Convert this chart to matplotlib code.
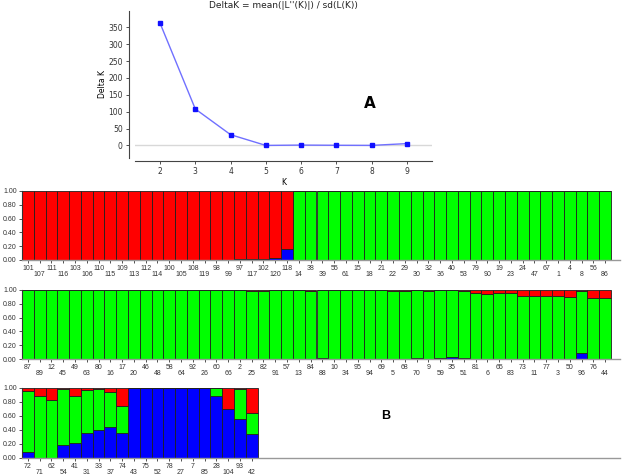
import matplotlib
matplotlib.use("Agg")
import matplotlib.pyplot as plt
import numpy as np

W, H = 625, 476

# ---------------- Data ----------------
k_values = [2, 3, 4, 5, 6, 7, 8, 9]
delta_k = [362, 108, 32, 0.2, 1.2, 0.6, 0.3, 5.6]

row1_labels = ["101", "107", "111", "116", "103", "106", "110", "115", "109", "113",
               "112", "114", "100", "105", "108", "119", "98", "99", "97", "117",
               "102", "120", "118", "14", "38", "39", "55", "61", "15", "18",
               "21", "22", "29", "30", "32", "36", "40", "53", "79", "90",
               "19", "23", "24", "47", "67", "1", "4", "8", "56", "86"]
row1_blue = [0]*20 + [0.0, 0.03, 0.16] + [0]*27
row1_green = [0]*18 + [0.01, 0.01, 0.02, 0.0, 0.0] + [1.0]*27
row1_red = [1.0]*18 + [0.99, 0.99, 0.98, 0.97, 0.84] + [0]*27

row2_labels = ["87", "89", "12", "45", "49", "63", "80", "16", "17", "20",
               "46", "48", "58", "64", "92", "26", "60", "66", "2", "25",
               "82", "91", "57", "13", "84", "88", "10", "34", "95", "94",
               "69", "5", "68", "70", "9", "59", "35", "51", "81", "6",
               "65", "83", "73", "11", "77", "3", "50", "96", "76", "44"]
row2_blue = [0]*22 + [0.005, 0.005, 0.005, 0.01, 0, 0, 0, 0,
                      0, 0, 0, 0.02, 0, 0.02, 0.03, 0.01, 0, 0,
                      0, 0, 0, 0, 0, 0, 0, 0.08, 0, 0]
row2_red = [0, 0.005, 0, 0, 0, 0, 0, 0, 0, 0.005,
            0, 0, 0, 0, 0, 0, 0, 0, 0, 0.01,
            0.01, 0.005, 0, 0, 0.02, 0, 0, 0, 0, 0,
            0, 0.01, 0.01, 0, 0.01, 0, 0, 0.02, 0.05, 0.06,
            0.05, 0.05, 0.08, 0.08, 0.08, 0.09, 0.10, 0.01, 0.12, 0.12]
row2_green = [round(1 - b - r, 3) for b, r in zip(row2_blue, row2_red)]

row3_labels = ["72", "71", "62", "54", "41", "31", "33", "37", "74", "43",
               "75", "52", "78", "27", "7", "85", "28", "104", "93", "42"]
row3_blue = [0.08, 0.0, 0.0, 0.19, 0.21, 0.36, 0.40, 0.44, 0.36, 1.0,
             1.0, 1.0, 1.0, 1.0, 1.0, 1.0, 0.88, 0.70, 0.56, 0.35]
row3_green = [0.88, 0.88, 0.83, 0.79, 0.67, 0.61, 0.59, 0.51, 0.39, 0.0,
              0.0, 0.0, 0.0, 0.0, 0.0, 0.0, 0.12, 0.0, 0.43, 0.30]
row3_red = [0.04, 0.12, 0.17, 0.02, 0.12, 0.03, 0.01, 0.05, 0.25, 0.0,
            0.0, 0.0, 0.0, 0.0, 0.0, 0.0, 0.0, 0.30, 0.01, 0.35]

yticks_bar = [0.0, 0.2, 0.4, 0.6, 0.8, 1.0]

# ---------------- Figure ----------------
fig = plt.figure(figsize=(W/100, H/100), dpi=100)
fig.patch.set_facecolor("white")

def px_axes(x0, y0, x1, y1):
    return fig.add_axes([x0/W, 1 - y1/H, (x1-x0)/W, (y1-y0)/H])

# ---- Delta K plot ----
axk = px_axes(135, 11, 432, 158)
axk.axhline(0, color="#d8d8d8", lw=1.0, zorder=1)
axk.plot(k_values, delta_k, color="#7070ff", lw=1.0, marker="s", ms=3,
         mfc="#1010ff", mec="#1010ff", zorder=3)
axk.set_xlim(1.29, 9.71)
axk.set_ylim(-37, 398)
axk.set_xticks(k_values)
axk.set_yticks([0, 50, 100, 150, 200, 250, 300, 350])
axk.tick_params(labelsize=5.5, length=2.5, width=0.6, colors="#333333", pad=2)
for s in ["top", "right"]:
    axk.spines[s].set_visible(False)
axk.spines["left"].set_position(("outward", 4.3))
axk.spines["bottom"].set_position(("outward", 2.2))
for s in ["left", "bottom"]:
    axk.spines[s].set_color("#444444")
    axk.spines[s].set_linewidth(0.8)
axk.set_ylabel("Delta K", fontsize=5.5, labelpad=1)
axk.set_xlabel("K", fontsize=5.5, labelpad=1)
axk.set_title("DeltaK = mean(|L''(K)|) / sd(L(K))", fontsize=6.5, pad=2, color="#222222")
fig.text(370/W, 1 - 103/H, "A", fontsize=11, fontweight="bold", ha="center", va="center")

# ---- STRUCTURE bar plots ----
XMAX = (620 - 22) / 11.78

def bar_row(y_top, y_bot, labels, blue, green, red):
    ax = px_axes(22, y_top, 620, y_bot)
    n = len(labels)
    x = np.arange(n) + 0.5
    blue = np.array(blue); green = np.array(green); red = np.array(red)
    kw = dict(width=1.0, edgecolor="#202020", linewidth=0.6)
    ax.bar(x, blue, color="#0000ff", **kw)
    ax.bar(x, green, bottom=blue, color="#00ff00", **kw)
    ax.bar(x, red, bottom=blue + green, color="#ff0000", **kw)
    ax.set_xlim(0, XMAX)
    ax.set_ylim(0, 1.0)
    ax.set_yticks(yticks_bar)
    ax.set_yticklabels([f"{v:.2f}" for v in yticks_bar])
    ax.set_xticks(x)
    ax.set_xticklabels([lab if i % 2 == 0 else "\n" + lab for i, lab in enumerate(labels)],
                       linespacing=0.85)
    ax.tick_params(axis="both", labelsize=5, length=2.5, width=0.6, colors="#333333", pad=1.2)
    for s in ["top", "right"]:
        ax.spines[s].set_visible(False)
    ax.spines["left"].set_color("#333333")
    ax.spines["left"].set_linewidth(0.8)
    ax.spines["bottom"].set_color("#999999")
    ax.spines["bottom"].set_linewidth(1.0)
    return ax

plt.rcParams["font.family"] = ["Liberation Sans", "DejaVu Sans"]
bar_row(191, 260, row1_labels, row1_blue, row1_green, row1_red)
bar_row(290, 359, row2_labels, row2_blue, row2_green, row2_red)
bar_row(388, 458, row3_labels, row3_blue, row3_green, row3_red)
fig.text(386/W, 1 - 416/H, "B", fontsize=9, fontweight="bold", ha="center", va="center")

fig.savefig("out.png", dpi=100, facecolor="white")
